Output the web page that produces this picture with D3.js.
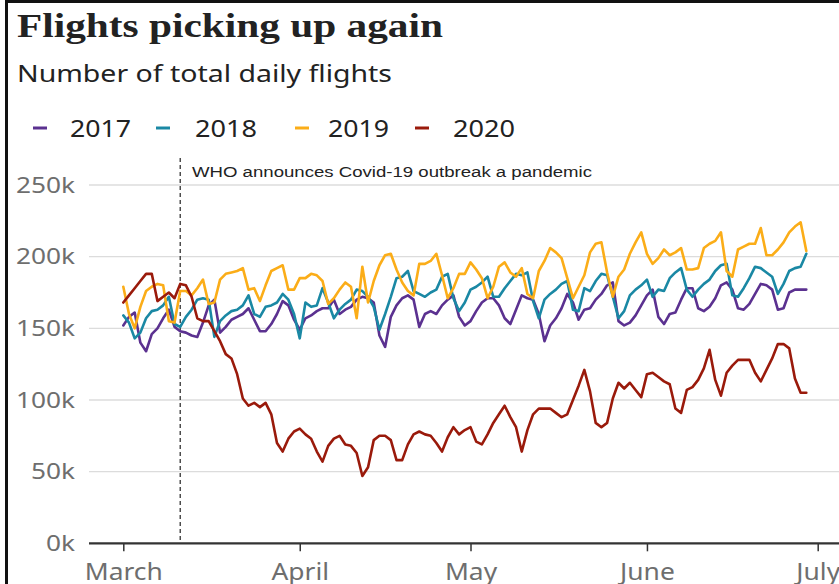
<!DOCTYPE html>
<html><head><meta charset="utf-8">
<script src="https://cdn.jsdelivr.net/npm/d3@7"></script>
<style>
html,body{margin:0;padding:0;background:#fff;}
svg{display:block;}
</style></head><body>
<svg id="chart" width="839" height="584"></svg>
<script>
// ---------------- data ----------------
const startDate = "2020-03-01";
const monthTicks = ["2020-03-01","2020-04-01","2020-05-01","2020-06-01","2020-07-01"];
const monthLabels = ["March","April","May","June","July"];
const yTicks = [0, 50, 100, 150, 200, 250];           // thousands
const yTickLabels = ["0k","50k","100k","150k","200k","250k"];
const years = ["2017","2018","2019","2020"];
const colors = ["#5b3190","#1a88a4","#fbad18","#9a1a0b"];
const annotationDate = "2020-03-11";
const annotationText = "WHO announces Covid-19 outbreak a pandemic";
const titleText = "Flights picking up again";
const subtitleText = "Number of total daily flights";

// daily flights (thousands), 1 March .. 29 June
const flights2017 = [152,158,161,140,134,146,150,157,163,151,148,147,145,144,154,166,170,147,151,156,158,160,164,156,148,148,153,160,169,166,156,149,157,159,162,164,164,170,160,163,165,
170,172,171,168,145,137,158,166,171,173,170,151,160,162,160,166,170,173,158,152,155,162,168,171,171,166,157,153,163,173,171,170,160,141,152,157,164,174,168,156,163,164,170,174,180,182,155,152,154,159,166,173,177,158,153,160,161,170,178,178,164,162,165,171,180,182,177,164,163,167,174,181,180,177,163,164,175,177,177,177];
const flights2018 = [159,154,143,147,157,162,163,166,172,153,151,158,163,170,171,170,144,155,159,162,163,166,173,160,158,165,166,168,174,170,160,143,168,165,166,178,168,157,163,167,170,
177,176,172,165,149,160,172,185,186,190,176,174,172,175,177,186,188,171,162,168,177,179,182,186,172,172,178,183,188,187,189,169,157,170,174,177,181,183,163,162,178,176,183,188,187,172,157,162,173,177,180,184,172,177,176,185,189,192,177,172,177,181,184,190,194,195,173,172,178,185,193,192,189,186,174,181,190,192,193,202];
const flights2019 = [179,160,150,165,176,179,181,180,155,154,176,176,173,178,184,167,168,184,188,189,190,192,177,178,169,180,190,192,194,177,177,185,185,188,187,183,167,171,177,182,179,
157,193,168,183,194,201,202,191,182,176,173,195,195,197,202,187,171,178,188,188,196,191,185,171,179,193,196,189,186,192,174,171,190,197,206,203,199,185,171,179,187,203,209,210,189,172,186,191,202,210,217,202,195,199,205,201,203,206,191,191,192,206,209,211,217,190,186,205,207,209,209,220,201,201,205,210,217,221,224,204];
const flights2020 = [168,173,178,183,188,188,169,172,175,171,181,180,172,157,155,155,148,141,132,129,118,101,96,98,95,98,90,70,64,73,78,80,76,73,64,57,68,73,75,69,68,
63,47,53,72,75,75,72,58,58,69,76,78,76,75,70,64,74,81,76,79,81,71,69,76,84,90,96,88,81,64,79,90,94,94,94,91,88,90,100,110,121,106,84,81,84,101,112,108,112,107,102,118,119,116,113,111,94,91,107,109,114,122,135,114,103,119,124,128,128,128,119,113,121,129,139,139,136,115,105,105];
const seriesValues = [flights2017, flights2018, flights2019, flights2020];

// ---------------- chart ----------------
const svg = d3.select("#chart");
const W = 839, H = 584;
const parse = d3.utcParse("%Y-%m-%d");
const start = parse(startDate);

const x = d3.scaleUtc()
  .domain([parse(monthTicks[0]), parse(monthTicks[monthTicks.length-1])])
  .range([123.3, 817.7]);
const y = d3.scaleLinear().domain([0, 250]).range([543.3, 185]);

const SX = 1.25; // horizontal text stretch of reference
function widen(sel, factor){
  sel.each(function(){
    const len = this.getComputedTextLength();
    d3.select(this).attr("textLength", len*factor).attr("lengthAdjust","spacingAndGlyphs");
  });
}
function fitTo(sel, w){ sel.attr("textLength", w).attr("lengthAdjust","spacingAndGlyphs"); }

// frame
svg.append("rect").attr("x",0).attr("y",0).attr("width",W).attr("height",H).attr("fill","#fff");
svg.append("path").attr("d",`M6.5,${H} L6.5,1.5 L${W},1.5`)
  .attr("fill","none").attr("stroke","#111").attr("stroke-width",3);

// title & subtitle
const title = svg.append("text").attr("x",17).attr("y",37)
  .attr("font-family","'Liberation Serif','DejaVu Serif',serif").attr("font-weight","bold")
  .attr("font-size",33).attr("fill","#222").text(titleText);
fitTo(title, 426);
const sub = svg.append("text").attr("x",17).attr("y",81.5)
  .attr("font-family","'Noto Sans',sans-serif").attr("font-size",23)
  .attr("fill","#222").text(subtitleText);
fitTo(sub, 375);

// legend
const legendX = [33, 156, 295, 415];
const legendTextX = [70, 195, 328, 453];
const legendTextW = [61, 62, 61, 62];
years.forEach((yr,i)=>{
  svg.append("line").attr("x1",legendX[i]).attr("x2",legendX[i]+14)
    .attr("y1",128).attr("y2",128).attr("stroke",colors[i]).attr("stroke-width",3);
  const t = svg.append("text").attr("x",legendTextX[i]).attr("y",136.5)
    .attr("font-family","'Noto Sans',sans-serif").attr("font-size",23)
    .attr("fill","#222").text(yr);
  fitTo(t, legendTextW[i]);
});

// gridlines
const grid = svg.append("g");
grid.selectAll("line").data(yTicks.filter(v=>v>0)).join("line")
  .attr("x1",89).attr("x2",W).attr("y1",d=>y(d)).attr("y2",d=>y(d))
  .attr("stroke","#dcdcdc").attr("stroke-width",1.3);

// y labels
const yl = svg.append("g").selectAll("text").data(yTicks).join("text")
  .attr("x",75).attr("y",d=>y(d)).attr("dy","0.36em").attr("text-anchor","end")
  .attr("font-family","'Noto Sans',sans-serif").attr("font-size",21)
  .attr("fill","#6e6e6e").text((d,i)=>yTickLabels[i]);
widen(yl, SX);

// x axis
const xAxis = d3.axisBottom(x)
  .tickValues(monthTicks.map(parse))
  .tickFormat((d,i)=>monthLabels[i])
  .tickSize(8).tickPadding(12);
const gx = svg.append("g").attr("transform",`translate(0,${y(0)})`).call(xAxis);
gx.select(".domain").remove();
gx.selectAll(".tick line").attr("stroke","#333").attr("stroke-width",1.5);
gx.selectAll(".tick text").attr("font-family","'Noto Sans',sans-serif")
  .attr("font-size",24).attr("fill","#6e6e6e").attr("dy","0.71em");
widen(gx.selectAll(".tick text"), 1.1);
svg.append("line").attr("x1",89).attr("x2",W).attr("y1",y(0)).attr("y2",y(0))
  .attr("stroke","#333").attr("stroke-width",2.3);

// annotation
const ax = x(parse(annotationDate));
svg.append("line").attr("x1",ax).attr("x2",ax).attr("y1",158).attr("y2",y(0))
  .attr("stroke","#333").attr("stroke-width",1.3).attr("stroke-dasharray","4,3");
const at = svg.append("text").attr("x",192).attr("y",176.5)
  .attr("font-family","'Liberation Sans',Arial,sans-serif").attr("font-size",15.5)
  .attr("fill","#222").text(annotationText);
fitTo(at, 400);

// lines
const line = d3.line()
  .x((d,i)=>x(d3.utcDay.offset(start, i)))
  .y(d=>y(d));
seriesValues.forEach((vals,i)=>{
  svg.append("path").datum(vals).attr("d",line)
    .attr("fill","none").attr("stroke",colors[i]).attr("stroke-width",2.6)
    .attr("stroke-linejoin","round").attr("stroke-linecap","round");
});
</script>
</body></html>
